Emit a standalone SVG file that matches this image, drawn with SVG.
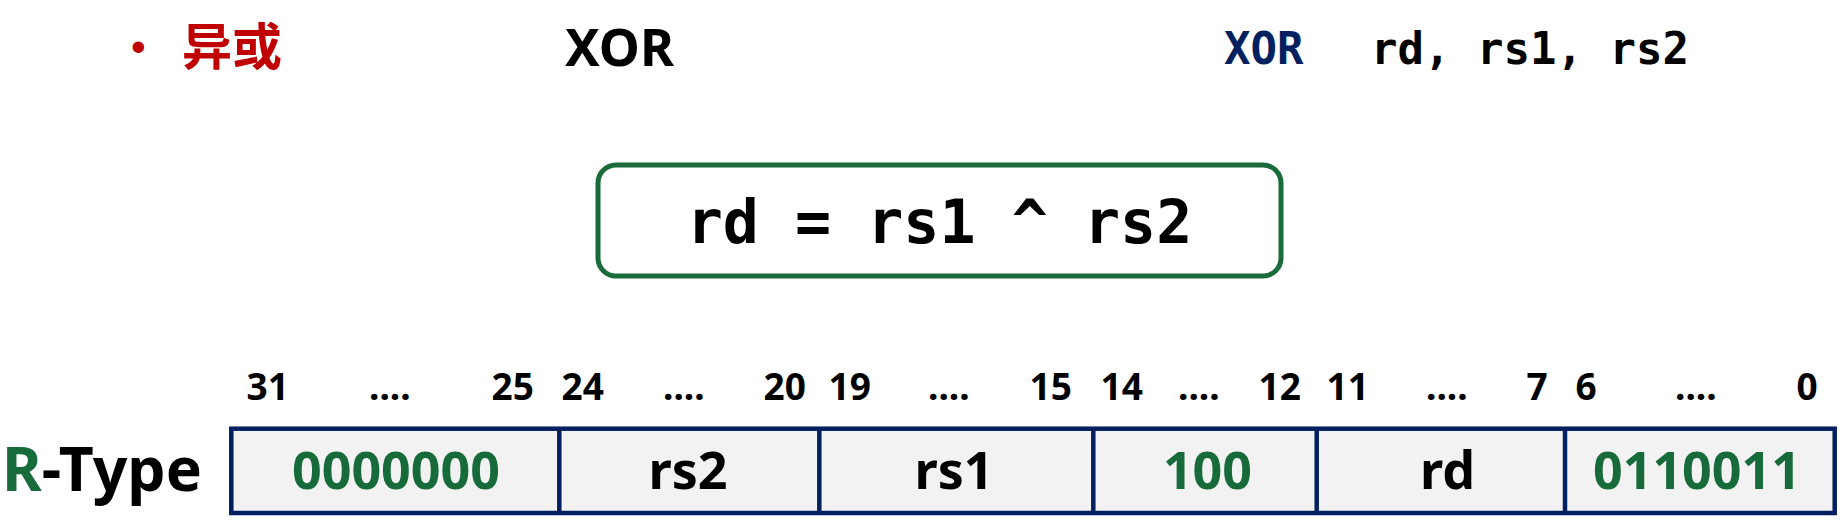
<svg xmlns="http://www.w3.org/2000/svg" width="1848" height="529" viewBox="0 0 1848 529">
<style>
.sans{font-family:"Noto Sans","Noto Sans CJK SC",sans-serif;font-weight:bold}
.mono{font-family:"DejaVu Sans Mono","Liberation Mono",monospace;font-weight:bold}
.lbl{font-family:"Noto Sans",sans-serif;font-weight:bold;font-size:37px;fill:#000}
.cell{fill:#F2F2F2;stroke:#002060;stroke-width:4.5}
.div{stroke:#002060;stroke-width:4.5}
.ct{font-family:"Noto Sans",sans-serif;font-weight:bold;font-size:52px;text-anchor:middle}
.grn{fill:#176B3B}
.blk{fill:#000}
</style>
<rect width="1848" height="529" fill="#fff"/>
<g id="title">
<text x="131" y="61" style="font-family:'Liberation Sans',sans-serif;font-size:42px" fill="#C00000">•</text>
<text x="182" y="65" class="sans" font-size="50" fill="#C00000">异或</text>
<text x="565" y="66" class="sans" font-size="52" fill="#000">XOR</text>
</g>
<g id="syntax">
<text x="1224" y="64" class="mono" font-size="44" fill="#002060">XOR</text>
<text x="1371" y="64" class="mono" font-size="44" fill="#000">rd, rs1, rs2</text>
</g>
<g id="formula">
<rect x="598" y="165" width="683" height="111" rx="18" ry="18" fill="#fff" stroke="#196B3C" stroke-width="5"/>
<text x="939.5" y="243" class="mono" font-size="60" text-anchor="middle" fill="#000">rd = rs1 ^ rs2</text>
</g>
<g id="rtype-label">
<text x="2" y="491" class="sans" font-size="61" textLength="200" lengthAdjust="spacingAndGlyphs"><tspan fill="#176B3B">R</tspan><tspan fill="#000">-Type</tspan></text>
</g>
<g id="bit-numbers">
<text class="lbl" x="246.5" y="400">31</text>
<text class="lbl" x="369" y="400">....</text>
<text class="lbl" x="491.5" y="400">25</text>
<text class="lbl" x="561.5" y="400">24</text>
<text class="lbl" x="663" y="400">....</text>
<text class="lbl" x="763.5" y="400">20</text>
<text class="lbl" x="828.5" y="400">19</text>
<text class="lbl" x="928" y="400">....</text>
<text class="lbl" x="1029.5" y="400">15</text>
<text class="lbl" x="1100.5" y="400">14</text>
<text class="lbl" x="1178" y="400">....</text>
<text class="lbl" x="1258.5" y="400">12</text>
<text class="lbl" x="1326.5" y="400">11</text>
<text class="lbl" x="1426" y="400">....</text>
<text class="lbl" x="1526.5" y="400">7</text>
<text class="lbl" x="1575.5" y="400">6</text>
<text class="lbl" x="1675" y="400">....</text>
<text class="lbl" x="1796.5" y="400">0</text>
</g>
<g id="fields">
<rect class="cell" x="231.3" y="428.7" width="1603.4" height="84.3"/>
<g id="field-funct7"><text class="ct grn" x="396" y="489">0000000</text></g>
<g id="field-rs2"><text class="ct blk" x="688" y="489">rs2</text></g>
<g id="field-rs1"><text class="ct blk" x="954" y="489">rs1</text></g>
<g id="field-funct3"><text class="ct grn" x="1207.5" y="489">100</text></g>
<g id="field-rd"><text class="ct blk" x="1447.5" y="489">rd</text></g>
<g id="field-opcode"><text class="ct grn" x="1697" y="489">0110011</text></g>
</g>
<g id="connectors">
<line class="div" x1="559.3" y1="428.7" x2="559.3" y2="513"/>
<line class="div" x1="819.3" y1="428.7" x2="819.3" y2="513"/>
<line class="div" x1="1093.3" y1="428.7" x2="1093.3" y2="513"/>
<line class="div" x1="1316.7" y1="428.7" x2="1316.7" y2="513"/>
<line class="div" x1="1565" y1="428.7" x2="1565" y2="513"/>
</g>
</svg>
